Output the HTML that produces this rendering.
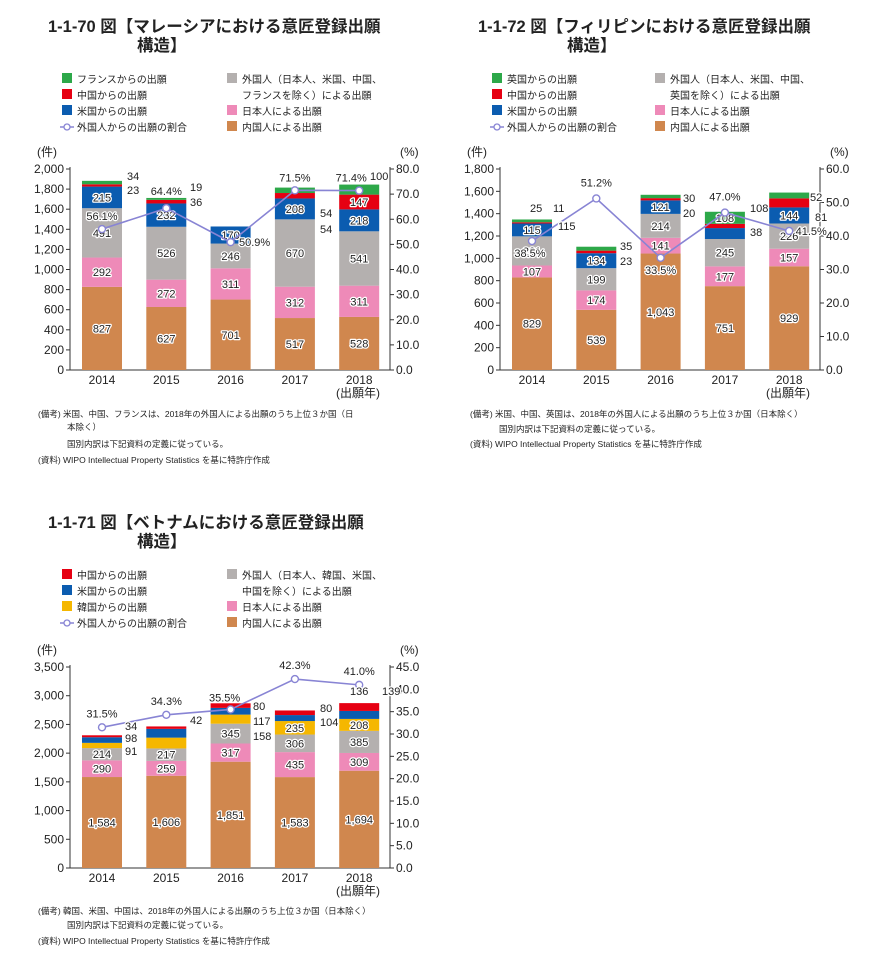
<!DOCTYPE html>
<html><head><meta charset="utf-8">
<style>
html,body{margin:0;padding:0;background:#fff;}
body{width:877px;height:964px;overflow:hidden;}
svg{font-family:"Liberation Sans","Noto Sans CJK JP",sans-serif;}
.t{font-weight:bold;font-size:16.5px;fill:#222;}
.lg{font-size:10px;fill:#222;}
.tk{font-size:12px;fill:#222;}
.nt{font-size:8.5px;fill:#222;}
.vl{font-size:11px;fill:#222;stroke:#fff;stroke-width:2.5px;paint-order:stroke;stroke-linejoin:round;}
</style></head><body>
<svg id="s" width="877" height="964" xmlns="http://www.w3.org/2000/svg">
<text class="t" x="48" y="32">1-1-70 図【マレーシアにおける意匠登録出願</text>
<text class="t" x="137" y="51">構造】</text>
<text class="t" x="478" y="32">1-1-72 図【フィリピンにおける意匠登録出願</text>
<text class="t" x="567" y="51">構造】</text>
<text class="t" x="48" y="528">1-1-71 図【ベトナムにおける意匠登録出願</text>
<text class="t" x="137" y="547">構造】</text>
<text class="nt" x="38" y="417">(備考) 米国、中国、フランスは、2018年の外国人による出願のうち上位３か国（日</text>
<text class="nt" x="67" y="430">本除く）</text>
<text class="nt" x="67" y="447">国別内訳は下記資料の定義に従っている。</text>
<text class="nt" x="38" y="463">(資料) WIPO Intellectual Property Statistics を基に特許庁作成</text>
<text class="nt" x="470" y="417">(備考) 米国、中国、英国は、2018年の外国人による出願のうち上位３か国（日本除く）</text>
<text class="nt" x="499" y="432">国別内訳は下記資料の定義に従っている。</text>
<text class="nt" x="470" y="447">(資料) WIPO Intellectual Property Statistics を基に特許庁作成</text>
<text class="nt" x="38" y="914">(備考) 韓国、米国、中国は、2018年の外国人による出願のうち上位３か国（日本除く）</text>
<text class="nt" x="67" y="928">国別内訳は下記資料の定義に従っている。</text>
<text class="nt" x="38" y="944">(資料) WIPO Intellectual Property Statistics を基に特許庁作成</text>
<g id="g"></g>
</svg>
<script>
var NS="http://www.w3.org/2000/svg",G=document.getElementById('g');
function el(n,a,t){var e=document.createElementNS(NS,n);for(var k in a)e.setAttribute(k,a[k]);if(t!==undefined)e.textContent=t;G.appendChild(e);return e;}
var C={br:"#d0874e",pk:"#ee8ab8",gy:"#b4b0af",bl:"#0b5cb0",rd:"#e60012",gr:"#2da849",yl:"#f5b700"};
function legend(x1,x2,y0,items1,items2){
 items1.forEach(function(it,i){var y=y0+i*16;
  if(it[0]=="line"){el("line",{x1:x1-2,y1:y-4,x2:x1+12,y2:y-4,stroke:"#8884d4","stroke-width":1.5});el("circle",{cx:x1+5,cy:y-4,r:3,fill:"#fff",stroke:"#8884d4","stroke-width":1.3});}
  else el("rect",{x:x1,y:y-10,width:10,height:10,fill:it[0]});
  el("text",{x:x1+15,y:y,"class":"lg"},it[1]);});
 items2.forEach(function(it,i){var y=y0+i*16;
  if(it[0])el("rect",{x:x2,y:y-10,width:10,height:10,fill:it[0]});
  el("text",{x:x2+15,y:y,"class":"lg"},it[1]);});
}
function chart(c){
 var L=c.L,R=L+320,T=c.T,B=T+201,sc=(B-T)/c.max;
 el("line",{x1:L,y1:T-2,x2:L,y2:B,stroke:"#333","stroke-width":1});
 el("line",{x1:R,y1:T-2,x2:R,y2:B,stroke:"#333","stroke-width":1});
 el("line",{x1:L,y1:B,x2:R,y2:B,stroke:"#333","stroke-width":1});
 el("text",{x:L-33,y:T-13,"class":"tk"},"(件)");
 el("text",{x:R+10,y:T-13,"class":"tk"},"(%)");
 for(var v=0;v<=c.max;v+=c.step){var y=B-v*sc;
  el("line",{x1:L-4,y1:y,x2:L,y2:y,stroke:"#333"});
  el("text",{x:L-6,y:y+4,"class":"tk","text-anchor":"end"},v.toLocaleString("en-US"));}
 for(var pv=0;pv<=c.pmax+0.001;pv+=c.pstep){var y=B-pv/c.pmax*(B-T);
  el("line",{x1:R,y1:y,x2:R+4,y2:y,stroke:"#333"});
  el("text",{x:R+6,y:y+4,"class":"tk"},pv.toFixed(1));}
 var yrs=[2014,2015,2016,2017,2018],pts=[];
 c.d.forEach(function(s,i){var cx=L+32+i*64.3,x=cx-20,acc=0;
  s.forEach(function(v,j){var h=v*sc,y=B-(acc+v)*sc;acc+=v;
   if(v>0)el("rect",{x:x,y:y,width:40,height:h,fill:c.col[j]});
   if(h>11)el("text",{x:cx,y:y+h/2+4,"class":"vl","text-anchor":"middle"},v.toLocaleString("en-US"));});
  el("text",{x:cx,y:B+14,"class":"tk","text-anchor":"middle"},yrs[i]);
  pts.push([cx,B-c.p[i]/c.pmax*(B-T)]);});
 el("text",{x:L+288,y:B+27,"class":"tk","text-anchor":"middle"},"(出願年)");
 el("polyline",{points:pts.map(function(p){return p.join(",")}).join(" "),fill:"none",stroke:"#8884d4","stroke-width":1.6});
 pts.forEach(function(p,i){el("circle",{cx:p[0],cy:p[1],r:3.5,fill:"#fff",stroke:"#8884d4","stroke-width":1.4});
  var o=c.po[i];el("text",{x:p[0]+o[0],y:p[1]+o[1],"class":"vl","text-anchor":"middle"},c.p[i].toFixed(1)+"%");});
 c.ext.forEach(function(e){el("text",{x:L+e[0],y:T+e[1],"class":"vl"},e[2]);});
}
var base=[C.br,C.pk,C.gy,C.bl,C.rd];
legend(62,227,83,[[C.gr,"フランスからの出願"],[C.rd,"中国からの出願"],[C.bl,"米国からの出願"],["line","外国人からの出願の割合"]],
 [[C.gy,"外国人（日本人、米国、中国、"],[null,"フランスを除く）による出願"],[C.pk,"日本人による出願"],[C.br,"内国人による出願"]]);
chart({L:70,T:169,max:2000,step:200,pmax:80,pstep:10,col:base.concat([C.gr]),
 d:[[827,292,491,215,23,34],[627,272,526,232,36,19],[701,311,246,170,0,0],[517,312,670,208,54,54],[528,311,541,218,147,100]],
 p:[56.1,64.4,50.9,71.5,71.4],po:[[0,-9],[0,-13],[24,4],[0,-9],[-8,-9]],
 ext:[[57,11,"34"],[57,25,"23"],[120,22,"19"],[120,37,"36"],[250,48,"54"],[250,64,"54"],[300,11,"100"]]});
legend(492,655,83,[[C.gr,"英国からの出願"],[C.rd,"中国からの出願"],[C.bl,"米国からの出願"],["line","外国人からの出願の割合"]],
 [[C.gy,"外国人（日本人、米国、中国、"],[null,"英国を除く）による出願"],[C.pk,"日本人による出願"],[C.br,"内国人による出願"]]);
chart({L:500,T:169,max:1800,step:200,pmax:60,pstep:10,col:base.concat([C.gr]),
 d:[[829,107,261,115,11,25],[539,174,199,134,23,35],[1043,141,214,121,20,30],[751,177,245,98,38,108],[929,157,226,144,81,52]],
 p:[38.5,51.2,33.5,47.0,41.5],po:[[-2,16],[0,-12],[0,16],[0,-12],[22,4]],
 ext:[[30,43,"25"],[53,43,"11"],[58,61,"115"],[120,81,"35"],[120,96,"23"],[183,33,"30"],[183,48,"20"],[250,43,"108"],[250,67,"38"],[310,32,"52"],[315,52,"81"]]});
legend(62,227,579,[[C.rd,"中国からの出願"],[C.bl,"米国からの出願"],[C.yl,"韓国からの出願"],["line","外国人からの出願の割合"]],
 [[C.gy,"外国人（日本人、韓国、米国、"],[null,"中国を除く）による出願"],[C.pk,"日本人による出願"],[C.br,"内国人による出願"]]);
chart({L:70,T:667,max:3500,step:500,pmax:45,pstep:5,col:[C.br,C.pk,C.gy,C.yl,C.bl,C.rd],
 d:[[1584,290,214,91,98,34],[1606,259,217,188,153,42],[1851,317,345,158,117,80],[1583,435,306,235,104,80],[1694,309,385,208,139,136]],
 p:[31.5,34.3,35.5,42.3,41.0],po:[[0,-10],[0,-10],[-6,-8],[0,-10],[0,-10]],
 ext:[[55,63,"34"],[55,75,"98"],[55,88,"91"],[120,57,"42"],[183,43,"80"],[183,58,"117"],[183,73,"158"],[250,45,"80"],[250,59,"104"],[280,28,"136"],[312,28,"139"]]});
</script>
</body></html>
